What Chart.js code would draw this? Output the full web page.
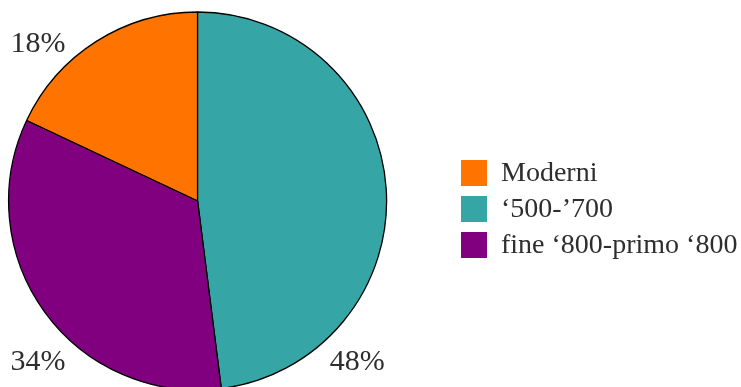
<!DOCTYPE html>
<html>
<head>
<meta charset="utf-8">
<script src="https://cdn.jsdelivr.net/npm/chart.js@4"></script>
<style>
  html, body { margin: 0; padding: 0; background: #fff; }
  #wrap { width: 741px; height: 387px; }
</style>
</head>
<body>
<div id="wrap"><canvas id="c" width="741" height="387"></canvas></div>
<script>
const categories = ["Moderni", "\u2018500-\u2019700", "fine \u2018800-primo \u2018800"];
const shares = [18, 48, 34];
const percentLabels = ["18%", "48%", "34%"];
const sliceColors = ["#FF7300", "#35A5A5", "#800080"];

// label anchor offsets (fraction of radius) relative to the pie centre
const labelOffsets = [[-0.845, -0.83], [0.845, 0.85], [-0.845, 0.85]];
const FONT = "'Liberation Serif', 'Times New Roman', serif";
const TEXT_COLOR = "#2e2e2e";

const total = shares.reduce((a, b) => a + b, 0);

const labelPlugin = {
  id: 'cornerLabels',
  afterDatasetsDraw(chart) {
    const ctx = chart.ctx;
    const meta = chart.getDatasetMeta(0);
    ctx.save();
    ctx.font = "30px " + FONT;
    ctx.fillStyle = TEXT_COLOR;
    ctx.textAlign = 'center';
    ctx.textBaseline = 'middle';
    meta.data.forEach((arc, i) => {
      const r = arc.outerRadius;
      const x = arc.x + labelOffsets[i][0] * r;
      const y = arc.y + labelOffsets[i][1] * r;
      ctx.fillText(percentLabels[i], x, y);
    });
    ctx.restore();
  }
};

const legendPlugin = {
  id: 'sideLegend',
  afterDraw(chart) {
    const ctx = chart.ctx;
    const x0 = 461, y0 = 160, box = 26, gap = 36;
    ctx.save();
    ctx.font = "28px " + FONT;
    ctx.textBaseline = 'middle';
    ctx.textAlign = 'left';
    chart.data.labels.forEach((lab, i) => {
      const y = y0 + i * gap;
      ctx.fillStyle = chart.data.datasets[0].backgroundColor[i];
      ctx.fillRect(x0, y, box, box);
      ctx.fillStyle = TEXT_COLOR;
      ctx.fillText(lab, 501, y + box / 2 + 1);
    });
    ctx.restore();
  }
};

new Chart(document.getElementById('c'), {
  type: 'pie',
  data: {
    labels: categories,
    datasets: [{
      data: shares,
      backgroundColor: sliceColors,
      borderColor: "#000",
      borderWidth: 1.3,
      radius: 189
    }]
  },
  options: {
    responsive: false,
    animation: false,
    rotation: -shares[0] / total * 360,
    layout: { padding: { left: 8, top: 15, right: 353.8, bottom: 0 } },
    plugins: {
      legend: { display: false },
      tooltip: { enabled: false }
    }
  },
  plugins: [labelPlugin, legendPlugin]
});
</script>
</body>
</html>
